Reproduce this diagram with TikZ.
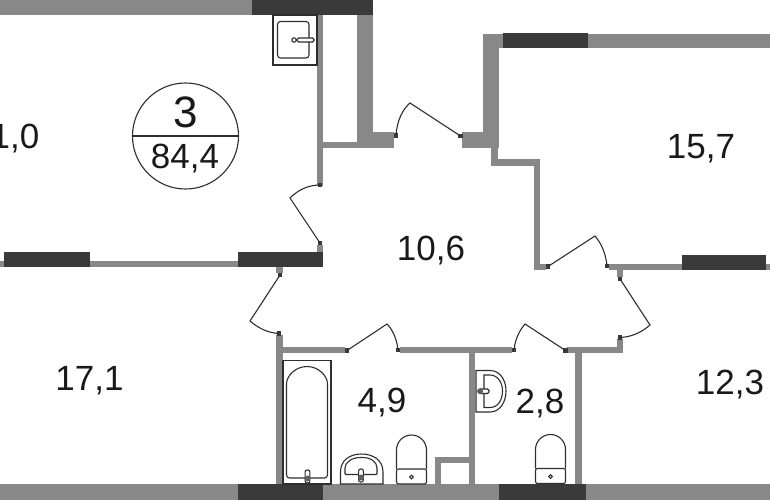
\documentclass[tikz,border=0pt]{standalone}
\usepackage{fontspec}
\setmainfont{Liberation Sans}
\definecolor{wallgrey}{HTML}{888888}
\definecolor{winddark}{HTML}{3A3A3A}
\definecolor{inkdark}{HTML}{2E2E2E}
\tikzset{
  wall/.style={fill=wallgrey},
  window/.style={fill=winddark},
  door/.style={draw=inkdark,line width=1.1pt},
  fixture/.style={draw=inkdark,line width=1.1pt,fill=white},
  roomlabel/.style={inner sep=0pt,anchor=base,text=black!90,font=\fontsize{35}{35}\selectfont},
  toilet/.pic={
    \draw[fixture] (-15,0) -- (-15,-19) arc (180:360:15) -- (15,0);
    \draw[fixture,rounded corners=2] (-15,0) rectangle (15,15);
    \draw[fixture] (0,8) circle (1.8);
  },
  tapv/.pic={
    \draw[fixture,rounded corners=2] (-2.4,-7) rectangle (2.4,6);
    \fill[wallgrey!70!black] (0,1.5) circle (3);
  }
}
\begin{document}
\begin{tikzpicture}[x=1pt,y=-1pt]
\clip (0,0) rectangle (770,500);
\useasboundingbox (0,0) rectangle (770,500);
\fill[white] (0,0) rectangle (770,500);

\fill[wall] (0,0) rectangle (252,15);
\fill[window] (252,0) rectangle (373,15);
\fill[wall] (317,15) rectangle (323,186);
\fill[wall] (357,15) rectangle (373,148);
\fill[wall] (323,142) rectangle (357,148);
\fill[wall] (373,132) rectangle (394,148);
\fill[wall] (462,132) rectangle (499,148);
\fill[wall] (483,34) rectangle (499,148);
\fill[wall] (483,34) rectangle (503,48);
\fill[window] (503,33.5) rectangle (588,48);
\fill[wall] (588,34) rectangle (770,48);
\fill[wall] (491,148) rectangle (498,166);
\fill[wall] (491,159) rectangle (540,166);
\fill[wall] (534,159) rectangle (540,270);
\fill[wall] (534,264) rectangle (546,270);
\fill[wall] (609,264) rectangle (682,270);
\fill[window] (682,255) rectangle (766,270);
\fill[wall] (766,264) rectangle (770,270);
\fill[wall] (617,270) rectangle (623,277);
\fill[wall] (617,339) rectangle (623,353);
\fill[wall] (567,347) rectangle (623,353);
\fill[wall] (400,347) rectangle (512,353);
\fill[wall] (276,347) rectangle (345,353);
\fill[wall] (276,335) rectangle (283,484);
\fill[wall] (276,267) rectangle (283,273);
\fill[window] (238,252) rectangle (323,267);
\fill[wall] (317,245) rectangle (323,252);
\fill[wall] (0,261) rectangle (4,267);
\fill[window] (4,252) rectangle (90,267);
\fill[wall] (90,261) rectangle (238,267);
\fill[wall] (469,353) rectangle (475,484);
\fill[wall] (575,353) rectangle (582,484);
\fill[wall] (435,457) rectangle (469,463);
\fill[wall] (435,457) rectangle (441,484);
\fill[wall] (0,484) rectangle (238,500);
\fill[window] (238,484) rectangle (323,500);
\fill[wall] (323,484) rectangle (499,500);
\fill[window] (499,484) rectangle (586,500);
\fill[wall] (586,484) rectangle (770,500);

\foreach \x/\y in {396/135.5,460.5/136,320/185,320/243,280/275,279/333.5,347/350.5,398/350,514/350,565.5/350.5,548/266.5,607/266,620/279,620/337.5}
  \fill[winddark] (\x-2.4,\y-2.4) rectangle (\x+2.4,\y+2.4);

\draw[door] (396,135.5) .. controls (397,120) and (403,109) .. (410,103) -- (460.5,136);
\draw[door] (320,185) .. controls (308,185) and (298,190) .. (290,198) -- (320,243);
\draw[door] (279,333.5) .. controls (268,333) and (258,328) .. (250,321) -- (280,275);
\draw[door] (347,350.5) -- (387,324) .. controls (393,330) and (397,340) .. (398,350);
\draw[door] (514,350) .. controls (515,340) and (519,331) .. (525,324) -- (565.5,350.5);
\draw[door] (548,266.5) -- (595,236) .. controls (602,244) and (606,255) .. (607,266);
\draw[door] (620,279) -- (650,325) .. controls (642,332) and (632,337) .. (620,337.5);

\draw[fixture] (273,15) rectangle (317,65);
\draw[fixture,rounded corners=3] (277.5,21.5) rectangle (309,58);
\draw[fixture,rounded corners=1.5] (297,38) rectangle (314,42);
\draw[fixture] (294,40) circle (2.2);

\draw[fixture] (283,360.5) rectangle (331,484);
\draw[fixture,rounded corners=3] (286.5,478) -- (286.5,387) arc (180:360:20.5) -- (327.5,478) -- cycle;
\pic at (307.5,477) {tapv};

\draw[fixture] (340.5,484) -- (340.5,472) .. controls (340.5,460) and (350,454) .. (361.5,454) .. controls (373,454) and (383,460) .. (383,472) -- (383,484) -- cycle;
\draw[fixture,rounded corners=1] (345,474.5) -- (345,469) .. controls (345,462) and (352,457.5) .. (361.5,457.5) .. controls (371,457.5) and (377,462) .. (377,469) -- (377,474.5) -- cycle;
\pic at (361,476) {tapv};

\pic at (411.5,469) {toilet};
\pic at (550.5,468.5) {toilet};

\draw[fixture] (476,370.5) -- (490,370.5) .. controls (500,370.5) and (506,380) .. (506,391) .. controls (506,402) and (500,412) .. (490,412) -- (476,412) -- cycle;
\draw[fixture] (484,375) -- (490,375) .. controls (498,375) and (502.5,383) .. (502.5,391) .. controls (502.5,400) and (498,407.5) .. (490,407.5) -- (484,407.5) -- cycle;
\draw[fixture,rounded corners=1.5] (479,389) rectangle (489,393.5);
\fill[wallgrey!70!black] (480,391.2) circle (3);

\node[circle,draw=inkdark,line width=1.1pt,minimum size=106pt,inner sep=0pt] (flatmark) at (185.5,136) {};
\draw[inkdark,line width=1.1pt] (flatmark.west) -- (flatmark.east);
\node[roomlabel,font=\fontsize{44}{44}\selectfont] (rooms) at (186,128) {3};
\node[roomlabel] (total) at (185,168) {84,4};

\node[roomlabel,anchor=base east] (liv) at (39.5,148) {1,0};
\node[roomlabel] (bedtop) at (701,158) {15,7};
\node[roomlabel] (hall) at (431,260) {10,6};
\node[roomlabel] (bedleft) at (89.5,390) {17,1};
\node[roomlabel] (bedright) at (730,394) {12,3};
\node[roomlabel] (bath) at (382,412) {4,9};
\node[roomlabel] (wc) at (540,413) {2,8};
\end{tikzpicture}
\end{document}
